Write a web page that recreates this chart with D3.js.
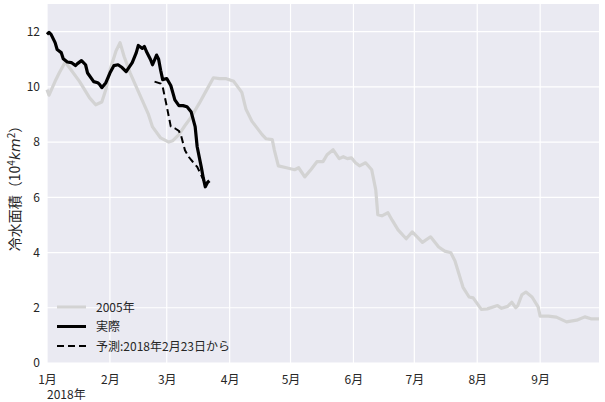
<!DOCTYPE html>
<html><head><meta charset="utf-8">
<script src="https://cdn.jsdelivr.net/npm/d3@7"></script>
<style>
body{margin:0;background:#fff;}
text{font-family:"Noto Sans CJK JP","DejaVu Sans",sans-serif;fill:#262626;}
</style></head>
<body>
<svg id="c" width="605" height="402"></svg>
<script>
// 2005 series (plotted on 2018 calendar)
const dates2005 = ["01-01","01-02","01-05","01-07","01-10","01-12","01-17","01-22","01-25","01-28","01-30","02-01","02-04","02-06","02-08","02-11","02-14","02-17","02-20","02-22","02-26","03-02","03-04","03-07","03-10","03-13","03-17","03-20","03-24","03-27","03-30","04-03","04-07","04-09","04-12","04-14","04-17","04-19","04-22","04-23","04-25","04-29","05-03","05-05","05-08","05-11","05-14","05-17","05-19","05-22","05-25","05-27","05-29","05-31","06-02","06-04","06-07","06-10","06-12","06-13","06-15","06-18","06-20","06-23","06-27","06-30","07-05","07-09","07-13","07-16","07-19","07-21","07-25","07-28","07-30","08-03","08-06","08-11","08-13","08-16","08-18","08-20","08-21","08-23","08-25","08-28","08-31","09-01","09-05","09-09","09-14","09-19","09-23","09-26","09-30"];
const values2005 = [9.9,9.7,10.2,10.5,10.9,10.7,10.2,9.6,9.35,9.45,9.9,10.6,11.3,11.6,11.1,10.5,10.0,9.5,9.0,8.55,8.15,8.0,8.05,8.27,8.6,8.9,9.4,9.8,10.33,10.3,10.3,10.2,9.8,9.2,8.75,8.56,8.27,8.12,8.09,7.72,7.14,7.07,7.0,7.07,6.74,7.0,7.29,7.29,7.54,7.72,7.4,7.47,7.4,7.43,7.25,7.14,7.25,7.0,6.27,5.37,5.33,5.44,5.18,4.82,4.5,4.75,4.37,4.57,4.2,4.05,3.99,3.7,2.74,2.39,2.36,1.94,1.96,2.08,1.98,2.05,2.2,2.0,2.08,2.47,2.57,2.39,2.03,1.7,1.7,1.66,1.49,1.55,1.67,1.6,1.6];
// 2018 actual
const datesActual = ["01-01","01-02","01-03","01-05","01-06","01-08","01-09","01-11","01-13","01-15","01-16","01-18","01-20","01-21","01-24","01-26","01-27","01-28","01-30","02-01","02-03","02-05","02-07","02-09","02-12","02-14","02-15","02-17","02-18","02-19","02-21","02-22","02-24","02-25","02-26","02-27","03-01","03-03","03-04","03-05","03-07","03-09","03-11","03-13","03-15","03-16","03-18","03-19","03-20","03-21","03-22"];
const valuesActual = [11.9,11.97,11.9,11.6,11.35,11.24,11.02,10.9,10.88,10.77,10.84,10.95,10.8,10.5,10.19,10.15,10.08,9.97,10.15,10.5,10.77,10.8,10.7,10.55,10.88,11.24,11.5,11.39,11.46,11.28,10.99,10.8,11.15,11.0,10.6,10.26,10.3,10.05,9.79,9.53,9.32,9.32,9.28,9.1,8.56,7.83,7.1,6.7,6.38,6.53,6.6];
// forecast from 2018-02-23
const datesForecast = ["02-23","02-26","02-27","03-01","03-03","03-05","03-07","03-08","03-10","03-12","03-14","03-16","03-18","03-20"];
const valuesForecast = [10.19,10.12,10.0,9.3,8.56,8.5,8.4,8.25,7.7,7.45,7.27,7.1,6.8,6.5];

const monthTicks = ["01-01","02-01","03-01","04-01","05-01","06-01","07-01","08-01","09-01"];
const monthLabels = ["1月","2月","3月","4月","5月","6月","7月","8月","9月"];
const yTicks = [0,2,4,6,8,10,12];
const legendLabels = ["2005年","実際","予測:2018年2月23日から"];

const parse = s => d3.timeParse("%Y-%m-%d")("2018-" + s);
const svg = d3.select("#c");
const L = 47, R = 599, T = 4, B = 363;
const x = d3.scaleTime().domain([parse("01-01"), parse("09-30")]).range([L, R]);
const y = d3.scaleLinear().domain([0, 13]).range([B, T]);

svg.append("rect").attr("x", L).attr("y", T).attr("width", R - L).attr("height", B - T).attr("fill", "#eaeaf2");

// grid
svg.append("g").selectAll("line").data(yTicks).join("line")
  .attr("x1", L).attr("x2", R).attr("y1", d => y(d)).attr("y2", d => y(d))
  .attr("stroke", "#fff").attr("stroke-width", 1.2);
svg.append("g").selectAll("line").data(monthTicks).join("line")
  .attr("x1", d => x(parse(d))).attr("x2", d => x(parse(d))).attr("y1", T).attr("y2", B)
  .attr("stroke", "#fff").attr("stroke-width", 1.2);

// axes (no domain lines, no tick marks)
const xAxis = d3.axisBottom(x).tickValues(monthTicks.map(parse)).tickSize(0)
  .tickFormat((d, i) => monthLabels[i]);
const gx = svg.append("g").attr("transform", `translate(0,${B})`).call(xAxis);
gx.select(".domain").remove();
gx.selectAll("text").attr("dy", null).attr("y", 21).style("font-size", "12px")
  .style("font-family", '"Noto Sans CJK JP",sans-serif').attr("fill", "#262626");
svg.append("text").attr("x", 47).attr("y", 399).style("font-size", "12px").text("2018年");

const yAxis = d3.axisLeft(y).tickValues(yTicks).tickSize(0).tickFormat(d3.format("d"));
const gy = svg.append("g").attr("transform", `translate(${L},0)`).call(yAxis);
gy.select(".domain").remove();
gy.selectAll("text").attr("x", -7).style("font-size", "12px")
  .style("font-family", '"Noto Sans CJK JP",sans-serif').attr("fill", "#262626");

// y label
const yl = svg.append("text").attr("transform", "translate(20,185) rotate(-90)")
  .attr("text-anchor", "middle").style("font-size", "14px");
yl.append("tspan").text("冷水面積（10");
yl.append("tspan").attr("dy", -5).style("font-size", "10px").text("4");
yl.append("tspan").attr("dy", 5).style("font-style", "italic").style("font-family", '"DejaVu Sans",sans-serif').text("km");
yl.append("tspan").attr("dy", -5).style("font-size", "10px").text("2");
yl.append("tspan").attr("dy", 5).text("）");

// lines
const line = d3.line().x(d => x(d[0])).y(d => y(d[1]));
const mk = (ds, vs) => ds.map((d, i) => [parse(d), vs[i]]);
const plot = svg.append("g");
plot.append("path").datum(mk(dates2005, values2005)).attr("d", line)
  .attr("fill", "none").attr("stroke", "#d3d3d3").attr("stroke-width", 3.2).attr("stroke-linejoin", "round");
plot.append("path").datum(mk(datesForecast, valuesForecast)).attr("d", line)
  .attr("fill", "none").attr("stroke", "#000").attr("stroke-width", 2).attr("stroke-dasharray", "7,4");
plot.append("path").datum(mk(datesActual, valuesActual)).attr("d", line)
  .attr("fill", "none").attr("stroke", "#000").attr("stroke-width", 3.2).attr("stroke-linejoin", "round");

// legend
const legStyles = [{c:"#d3d3d3",w:3,d:null},{c:"#000",w:3,d:null},{c:"#000",w:2,d:"7,4"}];
const lg = svg.append("g");
legendLabels.forEach((t, i) => {
  const yy = 307 + i * 19.5;
  lg.append("line").attr("x1", 57).attr("x2", 86).attr("y1", yy).attr("y2", yy)
    .attr("stroke", legStyles[i].c).attr("stroke-width", legStyles[i].w)
    .attr("stroke-dasharray", legStyles[i].d);
  lg.append("text").attr("x", 96).attr("y", yy + 4.5).style("font-size", "12px").text(t);
});
</script>
</body></html>
